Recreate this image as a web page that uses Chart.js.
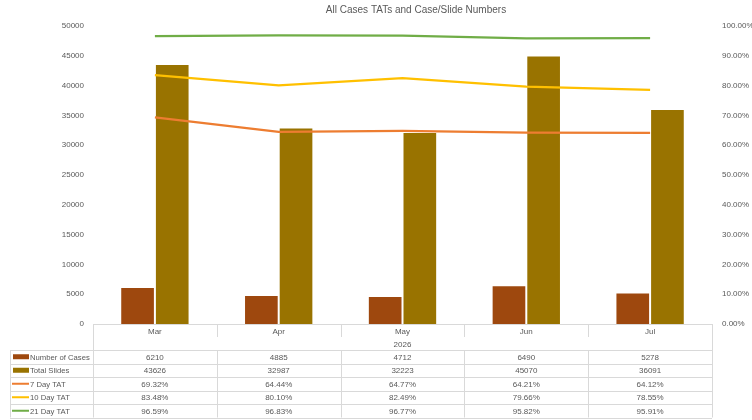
<!DOCTYPE html>
<html>
<head>
<meta charset="utf-8">
<script src="https://cdn.jsdelivr.net/npm/chart.js@4/dist/chart.umd.min.js"></script>
<style>
  html, body { margin: 0; padding: 0; background: #fff; }
  #wrap { width: 752px; height: 420px; }
</style>
</head>
<body>
<div id="wrap"><canvas id="chart" width="752" height="420"></canvas></div>
<script>
const chartTitle = 'All Cases TATs and Case/Slide Numbers';
const months = ['Mar', 'Apr', 'May', 'Jun', 'Jul'];
const yearLabel = '2026';
const numberOfCases = [6210, 4885, 4712, 6490, 5278];
const totalSlides = [43626, 32987, 32223, 45070, 36091];
const tat7 = [0.6932, 0.6444, 0.6477, 0.6421, 0.6412];
const tat10 = [0.8348, 0.8010, 0.8249, 0.7966, 0.7855];
const tat21 = [0.9659, 0.9683, 0.9677, 0.9582, 0.9591];

const FONT = "'Liberation Sans', Arial, sans-serif";
const TEXT = '#595959';
const LINE = '#d9d9d9';

const pct = (v) => (v * 100).toFixed(2) + '%';

// rows of the data table under the plot
const tableRows = [
  { label: 'Number of Cases', color: '#9e480e', kind: 'box', values: numberOfCases, fmt: (v) => String(v) },
  { label: 'Total Slides', color: '#997300', kind: 'box', values: totalSlides, fmt: (v) => String(v) },
  { label: '7 Day TAT', color: '#ed7d31', kind: 'line', values: tat7, fmt: pct },
  { label: '10 Day TAT', color: '#ffc000', kind: 'line', values: tat10, fmt: pct },
  { label: '21 Day TAT', color: '#70ad47', kind: 'line', values: tat21, fmt: pct },
];

// title sits a little right of the canvas centre, like the Excel original
const titleDraw = {
  id: 'titleDraw',
  afterDraw(chart) {
    const ctx = chart.ctx;
    ctx.save();
    ctx.font = '10px ' + FONT;
    ctx.fillStyle = TEXT;
    ctx.textAlign = 'center';
    ctx.textBaseline = 'middle';
    ctx.fillText(chartTitle, 416, 10);
    ctx.restore();
  }
};

const dataTable = {
  id: 'dataTable',
  afterDraw(chart) {
    const ctx = chart.ctx;
    const area = chart.chartArea;
    const xs = chart.scales.x;
    const n = months.length;
    const colW = (area.right - area.left) / n;
    const top = area.bottom;
    const catH = 13, yearH = 13, rowH = 13.5;
    const labelLeft = 10;

    ctx.save();
    ctx.strokeStyle = LINE;
    ctx.lineWidth = 1;
    ctx.font = '8px ' + FONT;
    ctx.fillStyle = TEXT;
    ctx.textBaseline = 'middle';

    const hline = (x1, x2, y) => {
      ctx.beginPath(); ctx.moveTo(x1, Math.round(y) + 0.5); ctx.lineTo(x2, Math.round(y) + 0.5); ctx.stroke();
    };
    const vline = (x, y1, y2) => {
      ctx.beginPath(); ctx.moveTo(Math.round(x) + 0.5, y1); ctx.lineTo(Math.round(x) + 0.5, y2); ctx.stroke();
    };

    // category header rows
    hline(area.left, area.right, top);
    vline(area.left, top, top + catH + yearH);
    vline(area.right, top, top + catH + yearH);
    for (let i = 1; i < n; i++) vline(area.left + colW * i, top, top + catH);
    ctx.textAlign = 'center';
    months.forEach((m, i) => ctx.fillText(m, xs.getPixelForValue(i), top + catH / 2 + 1));
    ctx.fillText(yearLabel, (area.left + area.right) / 2, top + catH + yearH / 2 + 1);

    // data rows
    const rowsTop = top + catH + yearH;
    hline(labelLeft, area.right, rowsTop);
    tableRows.forEach((row, r) => {
      const y0 = rowsTop + r * rowH;
      const yc = y0 + rowH / 2;
      hline(labelLeft, area.right, y0 + rowH);
      // legend key
      ctx.fillStyle = row.color;
      if (row.kind === 'box') {
        ctx.fillRect(13, yc - 2.5, 16, 5);
      } else {
        ctx.fillRect(12, yc - 1, 17, 2);
      }
      ctx.fillStyle = TEXT;
      ctx.textAlign = 'left';
      ctx.font = '7.7px ' + FONT;
      ctx.fillText(row.label, 30, yc + 1);
      ctx.font = '8px ' + FONT;
      ctx.textAlign = 'center';
      row.values.forEach((v, i) => ctx.fillText(row.fmt(v), xs.getPixelForValue(i), yc + 1));
    });
    const rowsBottom = rowsTop + tableRows.length * rowH;
    vline(labelLeft, rowsTop, rowsBottom);
    for (let i = 0; i <= n; i++) vline(area.left + colW * i, rowsTop, rowsBottom);
    ctx.restore();
  }
};

new Chart(document.getElementById('chart').getContext('2d'), {
  type: 'bar',
  data: {
    labels: months,
    datasets: [
      { type: 'line', label: '7 Day TAT', data: tat7, yAxisID: 'y1', borderColor: '#ed7d31', borderWidth: 2.25, pointRadius: 0, fill: false, order: 0 },
      { type: 'line', label: '10 Day TAT', data: tat10, yAxisID: 'y1', borderColor: '#ffc000', borderWidth: 2.25, pointRadius: 0, fill: false, order: 0 },
      { type: 'line', label: '21 Day TAT', data: tat21, yAxisID: 'y1', borderColor: '#70ad47', borderWidth: 2.25, pointRadius: 0, fill: false, order: 0 },
      { label: 'Number of Cases', data: numberOfCases, yAxisID: 'y', backgroundColor: '#9e480e', borderColor: 'rgba(255,255,255,0.45)', borderWidth: 1, order: 1 },
      { label: 'Total Slides', data: totalSlides, yAxisID: 'y', backgroundColor: '#997300', borderColor: 'rgba(255,255,255,0.45)', borderWidth: 1, order: 1 },
    ]
  },
  options: {
    responsive: false,
    animation: false,
    layout: { padding: { left: 0, right: 0, top: 26, bottom: 96 } },
    datasets: { bar: { categoryPercentage: 0.56, barPercentage: 1 } },
    plugins: {
      legend: { display: false },
      tooltip: { enabled: false },
      title: { display: false }
    },
    scales: {
      x: { display: false, offset: true },
      y: {
        position: 'left',
        min: 0, max: 50000,
        border: { display: false },
        grid: { display: false, drawTicks: false },
        ticks: { stepSize: 5000, padding: 9, color: TEXT, font: { family: FONT, size: 8 }, callback: (v) => String(v) },
        afterFit: (s) => { s.width = 93; }
      },
      y1: {
        position: 'right',
        min: 0, max: 1,
        border: { display: false },
        grid: { display: false, drawTicks: false },
        ticks: { stepSize: 0.1, padding: 10, color: TEXT, font: { family: FONT, size: 8 }, callback: (v) => pct(v) },
        afterFit: (s) => { s.width = 40; }
      }
    }
  },
  plugins: [titleDraw, dataTable]
});
</script>
</body>
</html>
